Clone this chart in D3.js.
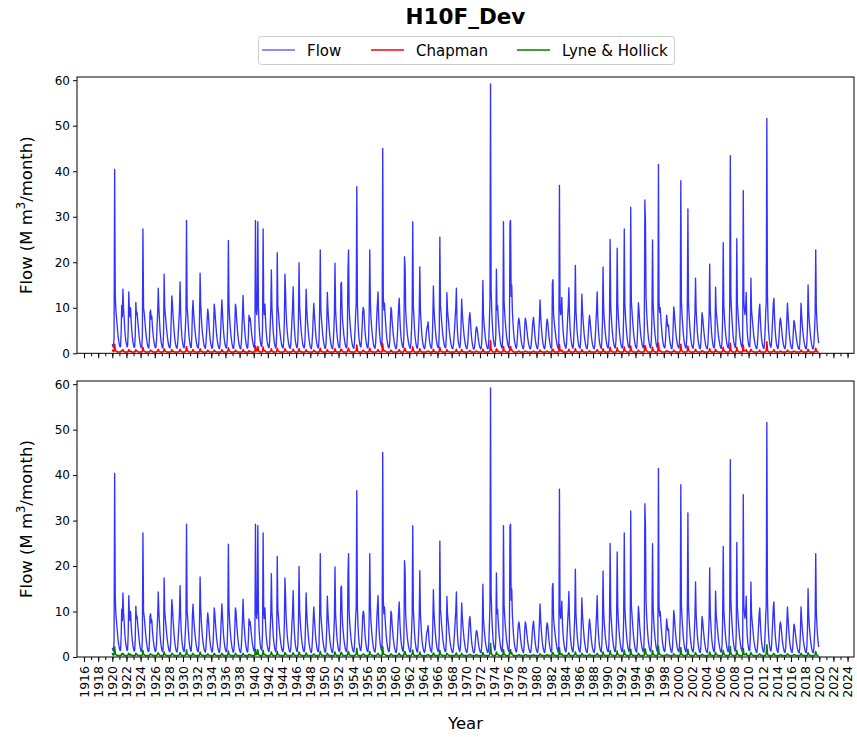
<!DOCTYPE html>
<html><head><meta charset="utf-8">
<script src="https://cdn.jsdelivr.net/npm/d3@7"></script>
<style>body{margin:0;background:#fff}text{font-family:"DejaVu Sans",sans-serif}</style>
</head><body><svg id="chart" width="857" height="737"></svg>
<script>
const chartTitle = "H10F_Dev";
const seriesNames = ["Flow", "Chapman", "Lyne & Hollick"];
const xLabel = "Year";
const startYear = 1920;
const yTicks = [0, 10, 20, 30, 40, 50, 60];

// Monthly flow (M m3/month), one row per year Jan..Dec
const flow1920s = [
[2.0,1.5,1.3,3.5,40.4,13.0,9.5,8.0,6.5,4.8,3.5,2.6],
[1.9,1.4,1.5,4.5,10.5,8.0,14.1,10.0,8.0,5.5,3.8,2.7],
[2.0,1.4,1.6,5.0,13.5,9.5,8.0,10.0,7.0,5.0,3.6,2.5],
[1.8,1.3,1.4,4.0,11.2,8.5,9.0,7.5,6.0,4.5,3.2,2.3],
[1.7,1.2,1.3,3.8,27.3,10.0,9.0,7.5,6.0,4.5,3.3,2.4],
[1.7,1.2,1.2,3.2,9.0,9.5,7.5,8.2,6.0,4.4,3.2,2.3],
[1.6,1.2,1.3,2.8,6.0,9.0,14.3,10.0,7.5,5.0,3.5,2.4],
[1.7,1.2,1.3,4.2,17.4,10.0,8.5,7.0,5.5,4.2,3.1,2.2],
[1.6,1.2,1.2,3.0,7.5,12.6,11.0,8.5,6.5,4.6,3.3,2.3],
[1.6,1.2,1.1,2.2,4.5,7.0,9.5,15.7,9.0,5.8,3.8,2.6]];
const flow1930s = [
[1.8,1.3,1.2,2.8,5.5,8.5,29.2,10.0,8.5,6.0,4.0,2.7],
[1.9,1.3,1.3,3.8,9.0,11.6,9.0,7.0,5.5,4.2,3.1,2.2],
[1.6,1.2,1.2,2.8,7.0,17.6,11.0,8.0,6.0,4.4,3.2,2.3],
[1.6,1.2,1.1,2.2,4.5,7.5,9.7,8.5,6.5,4.6,3.2,2.2],
[1.6,1.1,1.2,2.8,6.0,10.8,9.5,7.5,5.8,4.2,3.0,2.1],
[1.5,1.1,1.0,2.2,5.0,8.5,11.7,9.0,6.5,4.6,3.2,2.2],
[1.6,1.2,1.2,2.8,7.5,24.8,11.0,8.0,6.0,4.4,3.2,2.2],
[1.6,1.1,1.1,2.6,6.5,10.8,10.0,7.5,5.8,4.2,3.0,2.1],
[1.5,1.1,1.0,2.2,5.0,8.5,12.7,8.5,6.5,4.6,3.2,2.2],
[1.6,1.1,1.2,3.8,8.4,7.0,7.8,6.5,5.0,3.8,2.8,2.0]];
const flow1940s = [
[1.5,1.2,2.8,29.2,10.5,8.5,10.0,28.9,10.0,6.5,4.2,2.8],
[2.0,1.5,1.8,5.5,27.3,10.0,8.5,10.8,7.5,5.0,3.6,2.5],
[1.8,1.3,1.2,2.5,6.0,9.5,18.3,10.0,7.5,5.0,3.5,2.4],
[1.7,1.2,1.3,4.2,22.1,10.5,9.0,7.0,5.5,4.2,3.1,2.2],
[1.6,1.2,1.2,2.8,7.0,17.4,13.6,9.0,6.5,4.6,3.3,2.3],
[1.6,1.2,1.1,2.0,4.5,7.5,10.0,14.6,8.5,5.6,3.7,2.5],
[1.8,1.3,1.2,2.8,7.5,19.9,10.5,8.0,6.0,4.4,3.2,2.2],
[1.6,1.2,1.2,2.7,7.0,14.1,10.0,7.5,5.8,4.2,3.0,2.1],
[1.5,1.1,1.0,2.2,4.6,8.0,11.0,8.5,6.5,4.6,3.2,2.2],
[1.6,1.2,1.2,3.2,10.0,22.7,9.5,7.5,5.8,4.2,3.1,2.2]];
const flow1950s = [
[1.6,1.1,1.1,2.6,6.5,13.4,10.0,7.5,5.8,4.2,3.0,2.1],
[1.5,1.1,1.0,2.2,5.0,8.5,19.8,9.5,7.0,4.8,3.3,2.3],
[1.6,1.2,1.3,3.8,15.2,15.6,9.5,7.0,5.5,4.0,3.0,2.1],
[1.6,1.2,1.2,3.8,18.0,22.7,10.0,7.5,5.8,4.2,3.1,2.2],
[1.6,1.2,1.1,2.2,5.0,8.5,11.0,36.6,11.0,7.0,4.5,3.0],
[2.1,1.5,1.4,2.8,5.5,9.0,10.1,9.5,7.0,4.8,3.4,2.4],
[1.7,1.2,1.2,3.0,8.5,22.7,11.5,8.0,6.0,4.4,3.2,2.2],
[1.6,1.2,1.1,2.2,5.0,8.5,11.0,13.5,8.5,5.6,3.8,2.6],
[1.9,1.4,3.2,45.0,12.5,9.5,11.0,8.5,6.5,4.6,3.3,2.3],
[1.6,1.2,1.2,2.8,6.5,10.1,9.5,7.0,5.5,4.0,3.0,2.1]];
const flow1960s = [
[1.5,1.1,1.0,2.0,4.2,7.5,10.0,12.1,8.0,5.4,3.6,2.5],
[1.8,1.3,1.3,4.2,21.2,19.0,9.5,7.0,5.5,4.0,3.0,2.1],
[1.6,1.2,1.1,2.4,5.5,9.5,28.9,10.5,7.8,5.2,3.6,2.5],
[1.7,1.2,1.1,2.4,5.5,9.0,19.0,9.5,7.0,4.8,3.3,2.3],
[1.6,1.2,1.0,1.6,2.8,4.5,5.5,6.0,6.9,4.8,3.2,2.2],
[1.6,1.2,1.1,2.7,7.0,14.8,10.0,7.5,5.8,4.2,3.0,2.1],
[1.6,1.2,1.3,4.8,25.5,10.5,9.0,7.0,5.5,4.0,3.0,2.1],
[1.6,1.2,1.2,3.8,13.3,9.5,8.0,6.5,5.0,3.8,2.8,2.0],
[1.5,1.1,1.0,1.8,3.5,5.5,8.0,10.0,14.3,7.5,4.5,2.8],
[2.0,1.4,1.2,2.6,6.0,11.9,9.0,7.0,5.5,4.0,3.0,2.1]];
const flow1970s = [
[1.5,1.1,1.0,1.8,3.4,6.0,8.0,8.9,7.0,4.8,3.2,2.2],
[1.5,1.0,0.9,1.5,2.8,4.8,5.8,5.6,4.6,3.5,2.5,1.8],
[1.3,1.0,1.0,2.2,5.5,16.0,8.5,6.5,5.0,3.6,2.6,1.9],
[1.4,1.0,1.1,2.6,6.5,11.5,59.2,14.0,9.5,6.5,4.3,2.9],
[2.1,1.5,1.6,4.2,18.5,9.5,10.5,8.0,6.0,4.4,3.2,2.2],
[1.7,1.2,1.3,4.8,28.9,11.5,9.0,7.0,5.5,4.0,3.0,2.1],
[1.6,1.2,3.2,28.7,29.2,12.5,15.0,9.5,7.0,4.8,3.4,2.4],
[1.8,1.3,1.1,2.2,4.5,6.8,7.7,7.0,5.5,4.0,2.9,2.0],
[1.5,1.1,1.0,2.4,5.8,7.7,7.2,6.0,4.7,3.5,2.6,1.8],
[1.4,1.0,1.0,1.8,3.4,5.5,7.0,7.9,6.2,4.4,3.0,2.1]];
const flow1980s = [
[1.5,1.1,1.0,2.1,4.5,7.5,11.7,8.5,6.3,4.5,3.1,2.2],
[1.6,1.1,1.0,2.0,3.8,6.2,7.5,7.0,5.4,3.9,2.8,2.0],
[1.4,1.1,1.5,15.4,16.2,8.5,7.0,5.8,4.6,3.5,2.6,1.8],
[1.4,1.0,2.6,36.9,10.5,8.5,9.5,12.3,7.5,5.2,3.6,2.5],
[1.8,1.3,1.1,2.2,5.0,8.0,10.5,14.4,8.5,5.6,3.8,2.6],
[1.8,1.3,1.1,2.4,5.5,9.0,19.3,9.5,7.0,4.8,3.3,2.3],
[1.6,1.2,1.1,2.7,6.5,13.0,9.5,7.5,5.7,4.1,3.0,2.1],
[1.5,1.1,1.0,2.0,4.2,6.8,8.3,7.2,5.6,4.0,2.9,2.0],
[1.5,1.1,1.0,1.9,4.0,7.0,9.5,13.5,8.0,5.4,3.6,2.4],
[1.7,1.2,1.1,2.8,7.0,18.9,10.0,7.5,5.8,4.2,3.1,2.2]];
const flow1990s = [
[1.6,1.2,1.2,3.0,8.5,25.0,10.5,8.0,6.0,4.4,3.2,2.2],
[1.6,1.2,1.2,3.0,8.0,23.1,11.0,8.0,6.0,4.4,3.2,2.2],
[1.6,1.2,1.2,3.0,8.5,27.3,11.0,8.2,6.2,4.5,3.2,2.2],
[1.6,1.2,1.3,4.8,32.1,11.5,9.5,7.5,5.8,4.2,3.1,2.2],
[1.6,1.2,1.1,2.6,6.5,11.1,9.5,7.2,5.5,4.0,3.0,2.1],
[1.6,1.2,1.3,5.2,33.7,28.9,12.5,9.0,6.8,4.8,3.4,2.4],
[1.8,1.3,1.2,3.0,8.5,24.9,11.0,8.0,6.0,4.4,3.2,2.2],
[1.6,1.2,2.7,41.5,11.5,9.0,10.0,7.8,6.0,4.4,3.1,2.2],
[1.6,1.2,1.2,2.7,5.8,8.4,7.0,5.8,6.2,4.3,3.0,2.1],
[1.5,1.1,1.0,2.4,5.5,10.2,9.0,7.0,5.4,3.9,2.9,2.0]];
const flow2000s = [
[1.6,1.2,1.2,3.2,9.5,37.9,11.5,8.5,6.5,4.6,3.3,2.3],
[1.7,1.2,1.2,3.2,9.5,31.7,11.5,8.5,6.4,4.5,3.2,2.2],
[1.6,1.2,1.1,2.4,5.5,9.0,16.5,9.5,7.0,4.8,3.3,2.3],
[1.6,1.1,1.0,2.2,5.2,8.9,8.0,6.5,5.0,3.7,2.7,1.9],
[1.4,1.1,1.0,2.2,5.0,8.5,19.6,9.5,7.0,4.8,3.3,2.3],
[1.6,1.2,1.2,3.8,14.5,9.5,8.0,6.5,5.0,3.7,2.8,2.0],
[1.5,1.1,1.1,2.8,8.0,24.3,10.5,8.0,6.0,4.4,3.2,2.2],
[1.6,1.2,1.2,3.2,10.5,43.4,12.5,9.5,7.2,5.0,3.5,2.5],
[1.8,1.3,1.4,4.8,25.2,11.0,9.0,7.0,5.5,4.0,3.0,2.1],
[1.6,1.2,2.6,35.7,11.5,9.5,8.5,10.0,13.4,6.8,4.2,2.8]];
const flow2010s = [
[1.9,1.4,1.4,4.2,16.5,9.5,8.0,6.5,5.0,3.7,2.8,2.0],
[1.5,1.1,1.0,2.0,4.2,7.0,9.5,10.8,7.5,5.0,3.4,2.3],
[1.6,1.2,1.0,2.2,5.0,8.5,11.5,51.6,13.0,7.5,4.8,3.2],
[2.1,1.5,1.3,2.4,5.0,8.0,11.0,12.1,8.0,5.4,3.6,2.4],
[1.6,1.2,1.0,2.1,4.2,6.8,7.7,7.0,5.5,4.0,2.9,2.0],
[1.5,1.1,1.0,2.1,4.4,7.5,11.0,8.5,6.3,4.5,3.1,2.2],
[1.5,1.1,1.0,2.2,4.8,7.2,6.8,5.6,4.5,3.4,2.5,1.8],
[1.3,1.0,0.9,2.2,5.4,11.0,8.5,6.5,5.0,3.7,2.7,1.9],
[1.4,1.0,1.0,2.4,6.0,15.0,9.5,7.0,5.4,3.9,2.9,2.0],
[1.4,1.0,1.0,2.2,5.0,8.5,22.7,10.0,7.0,4.8,3.3,2.2]];

// Chapman baseflow, one row per year Jan..Dec
const chapman1920s = [
[0.8,0.5,0.4,0.5,2.0,0.7,0.5,0.4,0.4,0.3,0.3,0.3],
[0.3,0.3,0.3,0.4,0.6,0.5,0.8,0.5,0.4,0.3,0.3,0.3],
[0.3,0.3,0.3,0.4,0.8,0.5,0.4,0.5,0.4,0.3,0.3,0.3],
[0.3,0.3,0.3,0.4,0.8,0.5,0.5,0.4,0.3,0.3,0.3,0.3],
[0.3,0.3,0.3,0.4,1.3,0.6,0.5,0.4,0.3,0.3,0.3,0.3],
[0.3,0.3,0.3,0.3,0.5,0.7,0.5,0.5,0.4,0.3,0.3,0.3],
[0.3,0.3,0.3,0.3,0.4,0.5,0.9,0.5,0.4,0.3,0.3,0.3],
[0.3,0.3,0.3,0.4,1.0,0.5,0.5,0.4,0.3,0.3,0.3,0.3],
[0.3,0.3,0.3,0.3,0.4,0.8,0.6,0.4,0.4,0.3,0.3,0.3],
[0.3,0.3,0.3,0.3,0.3,0.4,0.5,0.9,0.5,0.4,0.3,0.3]];
const chapman1930s = [
[0.3,0.3,0.3,0.3,0.4,0.5,1.5,0.6,0.5,0.4,0.3,0.3],
[0.3,0.3,0.3,0.3,0.5,0.8,0.5,0.4,0.3,0.3,0.3,0.3],
[0.3,0.3,0.3,0.3,0.4,1.0,0.6,0.4,0.4,0.3,0.3,0.3],
[0.3,0.3,0.3,0.3,0.3,0.4,0.7,0.5,0.4,0.3,0.3,0.3],
[0.3,0.3,0.3,0.3,0.4,0.7,0.5,0.4,0.3,0.3,0.3,0.3],
[0.3,0.3,0.3,0.3,0.3,0.4,0.8,0.5,0.4,0.3,0.3,0.3],
[0.3,0.3,0.3,0.3,0.4,1.2,0.6,0.5,0.4,0.3,0.3,0.3],
[0.3,0.3,0.3,0.3,0.4,0.7,0.5,0.4,0.3,0.3,0.3,0.3],
[0.3,0.3,0.3,0.3,0.3,0.4,0.8,0.5,0.4,0.3,0.3,0.3],
[0.3,0.3,0.3,0.3,0.6,0.4,0.4,0.4,0.3,0.3,0.3,0.3]];
const chapman1940s = [
[0.3,0.3,0.4,1.6,0.6,0.5,0.5,1.5,0.6,0.4,0.3,0.3],
[0.3,0.3,0.3,0.4,1.4,0.6,0.5,0.6,0.4,0.3,0.3,0.3],
[0.3,0.3,0.3,0.3,0.4,0.5,1.0,0.5,0.4,0.3,0.3,0.3],
[0.3,0.3,0.3,0.4,1.1,0.6,0.5,0.4,0.3,0.3,0.3,0.3],
[0.3,0.3,0.3,0.3,0.4,1.0,0.7,0.5,0.4,0.3,0.3,0.3],
[0.3,0.3,0.3,0.3,0.3,0.4,0.5,0.9,0.5,0.4,0.3,0.3],
[0.3,0.3,0.3,0.3,0.4,1.0,0.6,0.4,0.4,0.3,0.3,0.3],
[0.3,0.3,0.3,0.3,0.4,0.8,0.5,0.4,0.3,0.3,0.3,0.3],
[0.3,0.3,0.3,0.3,0.3,0.4,0.7,0.5,0.4,0.3,0.3,0.3],
[0.3,0.3,0.3,0.3,0.6,1.1,0.5,0.4,0.4,0.3,0.3,0.3]];
const chapman1950s = [
[0.3,0.3,0.3,0.3,0.4,0.8,0.5,0.4,0.3,0.3,0.3,0.3],
[0.3,0.3,0.3,0.3,0.3,0.4,1.0,0.5,0.4,0.3,0.3,0.3],
[0.3,0.3,0.3,0.4,0.9,0.9,0.5,0.4,0.3,0.3,0.3,0.3],
[0.3,0.3,0.3,0.4,0.8,1.1,0.5,0.4,0.4,0.3,0.3,0.3],
[0.3,0.3,0.3,0.3,0.3,0.4,0.6,1.8,0.6,0.4,0.3,0.3],
[0.3,0.3,0.3,0.3,0.3,0.5,0.7,0.5,0.4,0.3,0.3,0.3],
[0.3,0.3,0.3,0.3,0.5,1.1,0.6,0.4,0.4,0.3,0.3,0.3],
[0.3,0.3,0.3,0.3,0.3,0.4,0.5,0.8,0.5,0.4,0.3,0.3],
[0.3,0.3,0.4,2.1,0.7,0.5,0.6,0.5,0.4,0.3,0.3,0.3],
[0.3,0.3,0.3,0.3,0.4,0.7,0.5,0.4,0.3,0.3,0.3,0.3]];
const chapman1960s = [
[0.3,0.3,0.3,0.3,0.3,0.4,0.5,0.8,0.5,0.3,0.3,0.3],
[0.3,0.3,0.3,0.4,1.1,1.0,0.5,0.4,0.3,0.3,0.3,0.3],
[0.3,0.3,0.3,0.3,0.4,0.5,1.4,0.6,0.4,0.3,0.3,0.3],
[0.3,0.3,0.3,0.3,0.3,0.5,1.0,0.5,0.4,0.3,0.3,0.3],
[0.3,0.3,0.3,0.3,0.3,0.3,0.4,0.4,0.5,0.4,0.3,0.3],
[0.3,0.3,0.3,0.3,0.4,0.9,0.5,0.4,0.3,0.3,0.3,0.3],
[0.3,0.3,0.3,0.4,1.3,0.6,0.5,0.4,0.3,0.3,0.3,0.3],
[0.3,0.3,0.3,0.4,0.8,0.5,0.4,0.4,0.3,0.3,0.3,0.3],
[0.3,0.3,0.3,0.3,0.3,0.3,0.4,0.5,0.9,0.4,0.3,0.3],
[0.3,0.3,0.3,0.3,0.4,0.8,0.5,0.4,0.3,0.3,0.3,0.3]];
const chapman1970s = [
[0.3,0.3,0.3,0.3,0.3,0.4,0.5,0.6,0.4,0.3,0.3,0.3],
[0.3,0.3,0.3,0.3,0.3,0.4,0.5,0.4,0.3,0.3,0.3,0.3],
[0.3,0.3,0.3,0.3,0.4,0.9,0.5,0.4,0.3,0.3,0.3,0.3],
[0.3,0.3,0.3,0.3,0.4,0.7,2.8,0.9,0.6,0.4,0.3,0.3],
[0.3,0.3,0.3,0.4,1.0,0.5,0.6,0.4,0.3,0.3,0.3,0.3],
[0.3,0.3,0.3,0.4,1.5,0.6,0.5,0.4,0.3,0.3,0.3,0.3],
[0.3,0.3,0.4,1.4,1.5,0.7,0.8,0.5,0.4,0.3,0.3,0.3],
[0.3,0.3,0.3,0.3,0.3,0.4,0.5,0.4,0.3,0.3,0.3,0.3],
[0.3,0.3,0.3,0.3,0.4,0.5,0.4,0.4,0.3,0.3,0.3,0.3],
[0.3,0.3,0.3,0.3,0.3,0.3,0.4,0.5,0.4,0.3,0.3,0.3]];
const chapman1980s = [
[0.3,0.3,0.3,0.3,0.3,0.4,0.7,0.5,0.4,0.3,0.3,0.3],
[0.3,0.3,0.3,0.3,0.3,0.4,0.5,0.4,0.3,0.3,0.3,0.3],
[0.3,0.3,0.3,0.9,0.9,0.5,0.4,0.3,0.3,0.3,0.3,0.3],
[0.3,0.3,0.4,1.9,0.6,0.5,0.5,0.7,0.4,0.3,0.3,0.3],
[0.3,0.3,0.3,0.3,0.3,0.4,0.5,0.9,0.5,0.3,0.3,0.3],
[0.3,0.3,0.3,0.3,0.3,0.5,1.0,0.5,0.4,0.3,0.3,0.3],
[0.3,0.3,0.3,0.3,0.4,0.8,0.5,0.4,0.3,0.3,0.3,0.3],
[0.3,0.3,0.3,0.3,0.3,0.4,0.6,0.4,0.3,0.3,0.3,0.3],
[0.3,0.3,0.3,0.3,0.3,0.4,0.5,0.8,0.5,0.3,0.3,0.3],
[0.3,0.3,0.3,0.3,0.4,1.0,0.5,0.4,0.3,0.3,0.3,0.3]];
const chapman1990s = [
[0.3,0.3,0.3,0.3,0.5,1.3,0.6,0.5,0.4,0.3,0.3,0.3],
[0.3,0.3,0.3,0.3,0.4,1.2,0.6,0.5,0.4,0.3,0.3,0.3],
[0.3,0.3,0.3,0.3,0.5,1.4,0.6,0.5,0.4,0.3,0.3,0.3],
[0.3,0.3,0.3,0.4,1.6,0.6,0.5,0.4,0.3,0.3,0.3,0.3],
[0.3,0.3,0.3,0.3,0.4,0.7,0.5,0.4,0.3,0.3,0.3,0.3],
[0.3,0.3,0.3,0.4,1.7,1.5,0.7,0.5,0.4,0.3,0.3,0.3],
[0.3,0.3,0.3,0.3,0.5,1.3,0.6,0.5,0.4,0.3,0.3,0.3],
[0.3,0.3,0.4,2.2,0.7,0.5,0.6,0.4,0.3,0.3,0.3,0.3],
[0.3,0.3,0.3,0.3,0.4,0.6,0.4,0.4,0.4,0.3,0.3,0.3],
[0.3,0.3,0.3,0.3,0.4,0.7,0.5,0.4,0.3,0.3,0.3,0.3]];
const chapman2000s = [
[0.3,0.3,0.3,0.3,0.5,2.0,0.7,0.5,0.4,0.3,0.3,0.3],
[0.3,0.3,0.3,0.3,0.5,1.6,0.7,0.5,0.4,0.3,0.3,0.3],
[0.3,0.3,0.3,0.3,0.3,0.5,0.9,0.5,0.4,0.3,0.3,0.3],
[0.3,0.3,0.3,0.3,0.4,0.6,0.4,0.4,0.3,0.3,0.3,0.3],
[0.3,0.3,0.3,0.3,0.3,0.5,1.0,0.5,0.4,0.3,0.3,0.3],
[0.3,0.3,0.3,0.4,0.9,0.5,0.4,0.4,0.3,0.3,0.3,0.3],
[0.3,0.3,0.3,0.3,0.5,1.3,0.6,0.5,0.4,0.3,0.3,0.3],
[0.3,0.3,0.3,0.3,0.6,2.2,0.7,0.5,0.4,0.3,0.3,0.3],
[0.3,0.3,0.3,0.4,1.3,0.6,0.5,0.4,0.3,0.3,0.3,0.3],
[0.3,0.3,0.4,1.8,0.6,0.5,0.5,0.5,0.8,0.4,0.3,0.3]];
const chapman2010s = [
[0.3,0.3,0.3,0.4,0.9,0.5,0.5,0.4,0.3,0.3,0.3,0.3],
[0.3,0.3,0.3,0.3,0.3,0.4,0.5,0.7,0.4,0.3,0.3,0.3],
[0.3,0.3,0.3,0.3,0.3,0.4,0.6,2.5,0.7,0.4,0.3,0.3],
[0.3,0.3,0.3,0.3,0.3,0.4,0.5,0.8,0.5,0.3,0.3,0.3],
[0.3,0.3,0.3,0.3,0.3,0.4,0.5,0.4,0.3,0.3,0.3,0.3],
[0.3,0.3,0.3,0.3,0.3,0.4,0.7,0.5,0.4,0.3,0.3,0.3],
[0.3,0.3,0.3,0.3,0.4,0.5,0.4,0.4,0.3,0.3,0.3,0.3],
[0.3,0.3,0.3,0.3,0.4,0.7,0.5,0.4,0.3,0.3,0.3,0.3],
[0.3,0.3,0.3,0.3,0.4,0.9,0.5,0.4,0.3,0.3,0.3,0.3],
[0.3,0.3,0.3,0.3,0.3,0.5,1.1,0.5,0.4,0.3,0.3,0.3]];

// Lyne & Hollick baseflow, one row per year Jan..Dec
const lyne1920s = [
[0.9,0.5,0.4,0.6,2.2,0.8,0.5,0.4,0.4,0.3,0.3,0.3],
[0.3,0.3,0.3,0.4,0.7,0.5,0.8,0.6,0.4,0.3,0.3,0.3],
[0.3,0.3,0.3,0.5,0.8,0.6,0.4,0.6,0.4,0.3,0.3,0.3],
[0.3,0.3,0.3,0.4,0.8,0.5,0.6,0.4,0.3,0.3,0.3,0.3],
[0.3,0.3,0.3,0.4,1.4,0.6,0.5,0.4,0.3,0.3,0.3,0.3],
[0.3,0.3,0.3,0.3,0.6,0.7,0.5,0.5,0.4,0.3,0.3,0.3],
[0.3,0.3,0.3,0.3,0.4,0.6,0.9,0.6,0.4,0.3,0.3,0.3],
[0.3,0.3,0.3,0.4,1.1,0.6,0.5,0.4,0.3,0.3,0.3,0.3],
[0.3,0.3,0.3,0.3,0.4,0.8,0.7,0.5,0.4,0.3,0.3,0.3],
[0.3,0.3,0.3,0.3,0.3,0.4,0.6,1.0,0.5,0.4,0.3,0.3]];
const lyne1930s = [
[0.3,0.3,0.3,0.3,0.4,0.5,1.6,0.6,0.5,0.4,0.3,0.3],
[0.3,0.3,0.3,0.3,0.6,0.8,0.5,0.4,0.3,0.3,0.3,0.3],
[0.3,0.3,0.3,0.3,0.4,1.1,0.6,0.5,0.4,0.3,0.3,0.3],
[0.3,0.3,0.3,0.3,0.3,0.5,0.7,0.5,0.4,0.3,0.3,0.3],
[0.3,0.3,0.3,0.3,0.4,0.8,0.6,0.4,0.3,0.3,0.3,0.3],
[0.3,0.3,0.3,0.3,0.3,0.5,0.8,0.6,0.4,0.3,0.3,0.3],
[0.3,0.3,0.3,0.3,0.4,1.3,0.6,0.5,0.4,0.3,0.3,0.3],
[0.3,0.3,0.3,0.3,0.4,0.8,0.6,0.4,0.3,0.3,0.3,0.3],
[0.3,0.3,0.3,0.3,0.3,0.5,0.8,0.5,0.4,0.3,0.3,0.3],
[0.3,0.3,0.3,0.3,0.6,0.5,0.5,0.4,0.3,0.3,0.3,0.3]];
const lyne1940s = [
[0.3,0.3,0.4,1.7,0.6,0.5,0.6,1.6,0.6,0.4,0.3,0.3],
[0.3,0.3,0.3,0.4,1.5,0.6,0.5,0.6,0.4,0.3,0.3,0.3],
[0.3,0.3,0.3,0.3,0.4,0.5,1.1,0.6,0.4,0.3,0.3,0.3],
[0.3,0.3,0.3,0.4,1.2,0.6,0.5,0.4,0.3,0.3,0.3,0.3],
[0.3,0.3,0.3,0.3,0.4,1.0,0.8,0.5,0.4,0.3,0.3,0.3],
[0.3,0.3,0.3,0.3,0.3,0.4,0.6,0.9,0.5,0.4,0.3,0.3],
[0.3,0.3,0.3,0.3,0.4,1.1,0.6,0.5,0.4,0.3,0.3,0.3],
[0.3,0.3,0.3,0.3,0.4,0.9,0.6,0.4,0.3,0.3,0.3,0.3],
[0.3,0.3,0.3,0.3,0.3,0.5,0.7,0.5,0.4,0.3,0.3,0.3],
[0.3,0.3,0.3,0.3,0.6,1.2,0.6,0.4,0.4,0.3,0.3,0.3]];
const lyne1950s = [
[0.3,0.3,0.3,0.3,0.4,0.8,0.6,0.4,0.3,0.3,0.3,0.3],
[0.3,0.3,0.3,0.3,0.3,0.5,1.1,0.6,0.4,0.3,0.3,0.3],
[0.3,0.3,0.3,0.4,0.9,1.0,0.6,0.4,0.3,0.3,0.3,0.3],
[0.3,0.3,0.3,0.4,0.9,1.2,0.6,0.4,0.4,0.3,0.3,0.3],
[0.3,0.3,0.3,0.3,0.3,0.5,0.6,1.9,0.7,0.4,0.3,0.3],
[0.3,0.3,0.3,0.3,0.4,0.5,0.7,0.6,0.4,0.3,0.3,0.3],
[0.3,0.3,0.3,0.3,0.5,1.2,0.6,0.5,0.4,0.3,0.3,0.3],
[0.3,0.3,0.3,0.3,0.3,0.4,0.6,0.8,0.5,0.4,0.3,0.3],
[0.3,0.3,0.4,2.3,0.7,0.6,0.6,0.5,0.4,0.3,0.3,0.3],
[0.3,0.3,0.3,0.3,0.4,0.7,0.6,0.4,0.3,0.3,0.3,0.3]];
const lyne1960s = [
[0.3,0.3,0.3,0.3,0.3,0.4,0.6,0.8,0.5,0.3,0.3,0.3],
[0.3,0.3,0.3,0.4,1.2,1.1,0.6,0.4,0.3,0.3,0.3,0.3],
[0.3,0.3,0.3,0.3,0.4,0.6,1.5,0.6,0.4,0.3,0.3,0.3],
[0.3,0.3,0.3,0.3,0.4,0.5,1.1,0.6,0.4,0.3,0.3,0.3],
[0.3,0.3,0.3,0.3,0.3,0.3,0.4,0.5,0.5,0.4,0.3,0.3],
[0.3,0.3,0.3,0.3,0.4,0.9,0.6,0.4,0.3,0.3,0.3,0.3],
[0.3,0.3,0.3,0.4,1.4,0.6,0.5,0.4,0.3,0.3,0.3,0.3],
[0.3,0.3,0.3,0.4,0.8,0.6,0.5,0.4,0.3,0.3,0.3,0.3],
[0.3,0.3,0.3,0.3,0.3,0.3,0.4,0.6,0.9,0.4,0.3,0.3],
[0.3,0.3,0.3,0.3,0.4,0.8,0.6,0.4,0.3,0.3,0.3,0.3]];
const lyne1970s = [
[0.3,0.3,0.3,0.3,0.3,0.4,0.5,0.6,0.5,0.3,0.3,0.3],
[0.3,0.3,0.3,0.3,0.3,0.4,0.5,0.5,0.3,0.3,0.3,0.3],
[0.3,0.3,0.3,0.3,0.4,1.0,0.5,0.4,0.3,0.3,0.3,0.3],
[0.3,0.3,0.3,0.3,0.4,0.8,3.0,1.0,0.6,0.4,0.3,0.3],
[0.3,0.3,0.3,0.4,1.1,0.6,0.6,0.5,0.3,0.3,0.3,0.3],
[0.3,0.3,0.3,0.4,1.6,0.7,0.5,0.4,0.3,0.3,0.3,0.3],
[0.3,0.3,0.4,1.5,1.6,0.7,0.9,0.5,0.4,0.3,0.3,0.3],
[0.3,0.3,0.3,0.3,0.3,0.4,0.5,0.5,0.3,0.3,0.3,0.3],
[0.3,0.3,0.3,0.3,0.4,0.5,0.5,0.4,0.3,0.3,0.3,0.3],
[0.3,0.3,0.3,0.3,0.3,0.4,0.4,0.5,0.4,0.3,0.3,0.3]];
const lyne1980s = [
[0.3,0.3,0.3,0.3,0.3,0.4,0.7,0.5,0.4,0.3,0.3,0.3],
[0.3,0.3,0.3,0.3,0.3,0.4,0.5,0.5,0.3,0.3,0.3,0.3],
[0.3,0.3,0.3,1.0,1.0,0.5,0.4,0.4,0.3,0.3,0.3,0.3],
[0.3,0.3,0.4,2.0,0.7,0.5,0.6,0.7,0.4,0.3,0.3,0.3],
[0.3,0.3,0.3,0.3,0.3,0.4,0.6,0.9,0.5,0.3,0.3,0.3],
[0.3,0.3,0.3,0.3,0.4,0.5,1.1,0.6,0.4,0.3,0.3,0.3],
[0.3,0.3,0.3,0.3,0.4,0.8,0.6,0.4,0.3,0.3,0.3,0.3],
[0.3,0.3,0.3,0.3,0.3,0.4,0.6,0.5,0.3,0.3,0.3,0.3],
[0.3,0.3,0.3,0.3,0.3,0.4,0.6,0.8,0.5,0.3,0.3,0.3],
[0.3,0.3,0.3,0.3,0.4,1.1,0.6,0.4,0.3,0.3,0.3,0.3]];
const lyne1990s = [
[0.3,0.3,0.3,0.3,0.5,1.4,0.7,0.5,0.4,0.3,0.3,0.3],
[0.3,0.3,0.3,0.3,0.5,1.3,0.6,0.5,0.4,0.3,0.3,0.3],
[0.3,0.3,0.3,0.3,0.5,1.5,0.7,0.5,0.4,0.3,0.3,0.3],
[0.3,0.3,0.3,0.4,1.7,0.7,0.5,0.4,0.3,0.3,0.3,0.3],
[0.3,0.3,0.3,0.3,0.4,0.8,0.6,0.4,0.3,0.3,0.3,0.3],
[0.3,0.3,0.3,0.4,1.8,1.6,0.7,0.5,0.4,0.3,0.3,0.3],
[0.3,0.3,0.3,0.3,0.5,1.4,0.7,0.5,0.4,0.3,0.3,0.3],
[0.3,0.3,0.4,2.4,0.7,0.6,0.6,0.4,0.3,0.3,0.3,0.3],
[0.3,0.3,0.3,0.3,0.4,0.6,0.5,0.4,0.4,0.3,0.3,0.3],
[0.3,0.3,0.3,0.3,0.4,0.7,0.6,0.4,0.3,0.3,0.3,0.3]];
const lyne2000s = [
[0.3,0.3,0.3,0.3,0.5,2.1,0.7,0.5,0.4,0.3,0.3,0.3],
[0.3,0.3,0.3,0.3,0.5,1.7,0.7,0.5,0.4,0.3,0.3,0.3],
[0.3,0.3,0.3,0.3,0.4,0.5,1.0,0.6,0.4,0.3,0.3,0.3],
[0.3,0.3,0.3,0.3,0.4,0.6,0.5,0.4,0.3,0.3,0.3,0.3],
[0.3,0.3,0.3,0.3,0.3,0.5,1.1,0.6,0.4,0.3,0.3,0.3],
[0.3,0.3,0.3,0.4,1.0,0.6,0.5,0.4,0.3,0.3,0.3,0.3],
[0.3,0.3,0.3,0.3,0.5,1.4,0.7,0.5,0.4,0.3,0.3,0.3],
[0.3,0.3,0.3,0.3,0.6,2.3,0.8,0.5,0.4,0.3,0.3,0.3],
[0.3,0.3,0.3,0.4,1.4,0.7,0.5,0.4,0.3,0.3,0.3,0.3],
[0.3,0.3,0.4,1.9,0.7,0.5,0.5,0.6,0.8,0.4,0.3,0.3]];
const lyne2010s = [
[0.3,0.3,0.3,0.4,1.0,0.6,0.5,0.4,0.3,0.3,0.3,0.3],
[0.3,0.3,0.3,0.3,0.3,0.4,0.6,0.7,0.5,0.3,0.3,0.3],
[0.3,0.3,0.3,0.3,0.3,0.4,0.6,2.7,0.8,0.4,0.3,0.3],
[0.3,0.3,0.3,0.3,0.3,0.4,0.6,0.8,0.5,0.3,0.3,0.3],
[0.3,0.3,0.3,0.3,0.3,0.4,0.5,0.5,0.3,0.3,0.3,0.3],
[0.3,0.3,0.3,0.3,0.3,0.4,0.7,0.6,0.4,0.3,0.3,0.3],
[0.3,0.3,0.3,0.3,0.4,0.5,0.5,0.4,0.3,0.3,0.3,0.3],
[0.3,0.3,0.3,0.3,0.4,0.8,0.6,0.4,0.3,0.3,0.3,0.3],
[0.3,0.3,0.3,0.3,0.4,0.9,0.6,0.4,0.3,0.3,0.3,0.3],
[0.3,0.3,0.3,0.3,0.3,0.5,1.2,0.6,0.4,0.3,0.3,0.3]];

const flow = [flow1920s, flow1930s, flow1940s, flow1950s, flow1960s, flow1970s, flow1980s, flow1990s, flow2000s, flow2010s].flat(2);
const chapman = [chapman1920s, chapman1930s, chapman1940s, chapman1950s, chapman1960s, chapman1970s, chapman1980s, chapman1990s, chapman2000s, chapman2010s].flat(2);
const lyne = [lyne1920s, lyne1930s, lyne1940s, lyne1950s, lyne1960s, lyne1970s, lyne1980s, lyne1990s, lyne2000s, lyne2010s].flat(2);

const dates = flow.map((d, i) => new Date(startYear, i, 1));

const svg = d3.select("#chart");
svg.append("rect").attr("width", 857).attr("height", 737).attr("fill", "#fff");

const L = 77, R = 854;
const panels = [
  {top: 77, bottom: 353.3, base: chapman, color: "#ff0000", labels: false},
  {top: 381, bottom: 657, base: lyne, color: "#008000", labels: true}
];
const t0 = +dates[0], t1 = +dates[dates.length - 1], span = t1 - t0;
const x = d3.scaleTime().domain([new Date(t0 - 0.05 * span), new Date(t1 + 0.05 * span)]).range([L, R]);

panels.forEach(p => {
  const y = d3.scaleLinear().domain([0, 60.7]).range([p.bottom, p.top]);
  const g = svg.append("g");
  const line = d3.line().x((d, i) => x(dates[i])).y(d => y(d));
  g.append("path").datum(flow).attr("d", line).attr("fill", "none")
    .attr("stroke", "#0000ff").attr("stroke-opacity", 0.8).attr("stroke-width", 1.35).attr("stroke-linejoin", "round");
  g.append("path").datum(p.base).attr("d", line).attr("fill", "none")
    .attr("stroke", p.color).attr("stroke-width", 1.6).attr("stroke-linejoin", "round");

  g.append("rect").attr("x", L).attr("y", p.top).attr("width", R - L).attr("height", p.bottom - p.top)
    .attr("fill", "none").attr("stroke", "#000").attr("stroke-width", 1);

  const ya = g.append("g").attr("transform", `translate(${L},0)`)
    .call(d3.axisLeft(y).tickValues(yTicks).tickSize(4).tickPadding(3));
  ya.select(".domain").remove();
  ya.selectAll("text").attr("font-size", 12).attr("font-family", "DejaVu Sans").attr("fill", "#000");

  const xm = g.append("g").attr("transform", `translate(0,${p.bottom})`)
    .call(d3.axisBottom(x).ticks(d3.timeYear.every(1)).tickSize(3).tickFormat(""));
  xm.select(".domain").remove();
  const xa = g.append("g").attr("transform", `translate(0,${p.bottom})`)
    .call(d3.axisBottom(x).ticks(d3.timeYear.every(2)).tickSize(5).tickFormat(p.labels ? d3.timeFormat("%Y") : ""));
  xa.select(".domain").remove();
  xa.selectAll("text").attr("font-size", 12.5).attr("font-family", "DejaVu Sans").attr("fill", "#000")
    .attr("transform", "rotate(-90)").attr("text-anchor", "end")
    .attr("x", -9).attr("y", 0).attr("dy", "0.35em");

  const yl = svg.append("text").attr("transform", `translate(32,${(p.top + p.bottom) / 2}) rotate(-90)`)
    .attr("text-anchor", "middle").attr("font-size", 16.5);
  yl.append("tspan").text("Flow (M m");
  yl.append("tspan").text("3").attr("font-size", 11.5).attr("dy", -7);
  yl.append("tspan").text("/month)").attr("dy", 7);
});

svg.append("text").attr("x", 465.5).attr("y", 24).attr("text-anchor", "middle")
  .attr("font-size", 21.5).attr("font-weight", "bold").text(chartTitle);

svg.append("text").attr("x", 465.5).attr("y", 729).attr("text-anchor", "middle")
  .attr("font-size", 16.5).text(xLabel);

const lg = svg.append("g");
lg.append("rect").attr("x", 258.5).attr("y", 36.5).attr("width", 416).attr("height", 28).attr("rx", 3)
  .attr("fill", "#fff").attr("stroke", "#cccccc");
const legendItems = [
  {name: seriesNames[0], color: "#0000ff", op: 0.6, w: 1.35, x0: 262},
  {name: seriesNames[1], color: "#ff0000", op: 1, w: 1.6, x0: 371},
  {name: seriesNames[2], color: "#008000", op: 1, w: 1.6, x0: 517}
];
legendItems.forEach(it => {
  lg.append("line").attr("x1", it.x0).attr("x2", it.x0 + 33).attr("y1", 50).attr("y2", 50)
    .attr("stroke", it.color).attr("stroke-opacity", it.op).attr("stroke-width", it.w);
  lg.append("text").attr("x", it.x0 + 45).attr("y", 55.5).attr("font-size", 15).text(it.name);
});
</script></body></html>
